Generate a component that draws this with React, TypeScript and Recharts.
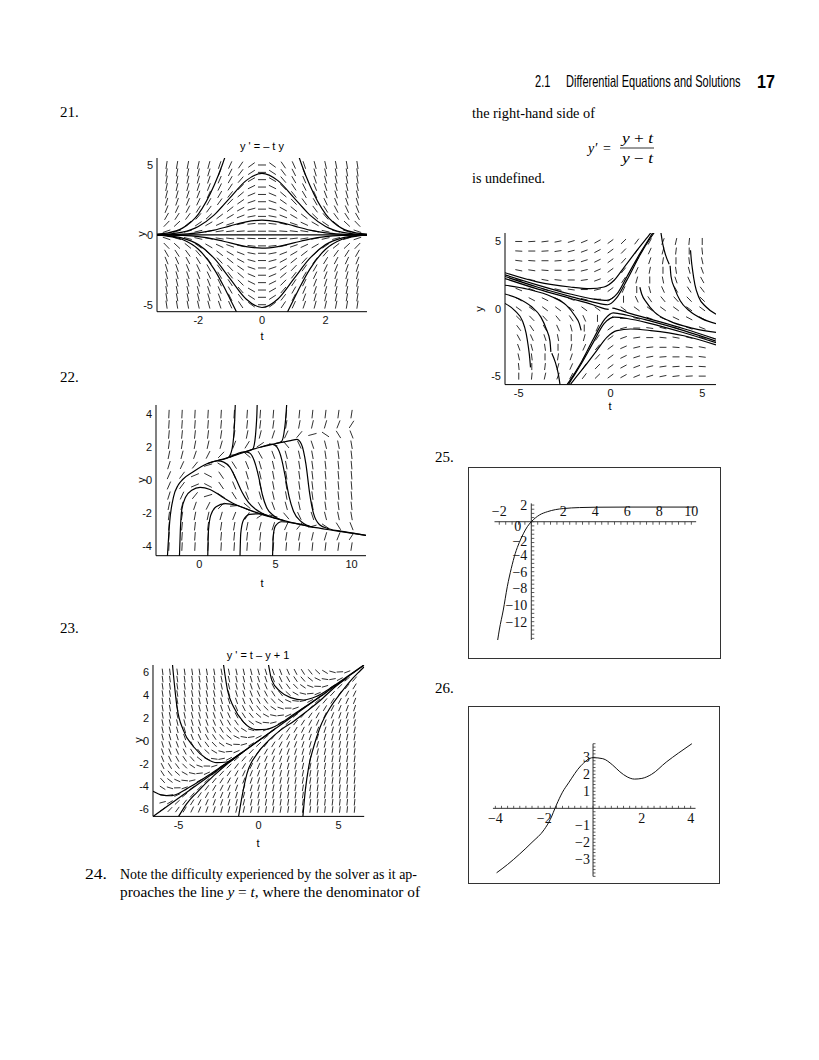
import React from "react";
import { ScatterChart, Scatter, XAxis, YAxis, ReferenceLine } from "recharts";

type Pt = [number, number];

// ---------- 21.  y' = -t y ----------
const grid21T = [-3, -2.67, -2.33, -2, -1.67, -1.33, -1, -0.67, -0.33, 0, 0.33, 0.67, 1, 1.33, 1.67, 2, 2.33, 2.67, 3];
const grid21Y = [-5, -4.47, -3.95, -3.42, -2.89, -2.37, -1.84, -1.32, -0.79, -0.26, 0.26, 0.79, 1.32, 1.84, 2.37, 2.89, 3.42, 3.95, 4.47, 5];
const ticks21T = [-2, 0, 2];
const ticks21Y = [-5, 0, 5];
const curves21: Pt[][] = [
  [[-3.3, 0.02], [-3, 0.05], [-2.5, 0.19], [-2, 0.6], [-1.5, 1.43], [-1, 2.67], [-0.5, 3.88], [0, 4.4], [0.5, 3.88], [1, 2.67], [1.5, 1.43], [2, 0.6], [2.5, 0.19], [3, 0.05], [3.3, 0.02]],
  [[-3.3, 0], [-3, 0.01], [-2.5, 0.05], [-2, 0.14], [-1.5, 0.34], [-1, 0.64], [-0.5, 0.93], [0, 1.05], [0.5, 0.93], [1, 0.64], [1.5, 0.34], [2, 0.14], [2.5, 0.05], [3, 0.01], [3.3, 0]],
  [[-3.3, 0], [0, 0], [3.3, 0]],
  [[-3.3, 0], [-3, -0.01], [-2.5, -0.04], [-2, -0.13], [-1.5, -0.31], [-1, -0.58], [-0.5, -0.84], [0, -0.95], [0.5, -0.84], [1, -0.58], [1.5, -0.31], [2, -0.13], [2.5, -0.04], [3, -0.01], [3.3, 0]],
  [[-3.3, -0.02], [-3, -0.06], [-2.5, -0.23], [-2, -0.7], [-1.5, -1.69], [-1, -3.15], [-0.5, -4.59], [0, -5.2], [0.5, -4.59], [1, -3.15], [1.5, -1.69], [2, -0.7], [2.5, -0.23], [3, -0.06], [3.3, -0.02]],
  [[-3.3, 0.05], [-3, 0.12], [-2.5, 0.48], [-2, 1.49], [-1.5, 3.57], [-1.25, 5.0], [-1.1, 6.0]],
  [[1.1, 6.0], [1.25, 5.0], [1.5, 3.57], [2, 1.49], [2.5, 0.48], [3, 0.12], [3.3, 0.05]],
  [[-3.3, -0.03], [-3, -0.08], [-2.5, -0.33], [-2, -1.03], [-1.5, -2.47], [-1.2, -3.7], [-1, -4.61], [-0.75, -5.75]],
  [[0.75, -5.75], [1, -4.61], [1.2, -3.7], [1.5, -2.47], [2, -1.03], [2.5, -0.33], [3, -0.08], [3.3, -0.03]],
];

// ---------- 22.  y' = y^2 - t ----------
const grid22T = [-2, -1.14, -0.29, 0.57, 1.43, 2.29, 3.14, 4, 4.86, 5.71, 6.57, 7.43, 8.29, 9.14, 10];
const grid22Y = [-4, -3.38, -2.77, -2.15, -1.54, -0.92, -0.31, 0.31, 0.92, 1.54, 2.15, 2.77, 3.38, 4];
const ticks22T = [0, 5, 10];
const ticks22Y = [-4, -2, 0, 2, 4];
const curves22: Pt[][] = [
  [[-2.1, -4.6], [-1.95, -2.5], [-1.7, -1.0], [-1.4, -0.3], [-1.1, 0.05], [-0.4, 0.52], [0.5, 1.0], [1.2, 1.2], [2, 1.4], [3, 1.72], [4, 2.0], [5, 2.22], [6, 2.4], [6.4, 2.47], [6.7, 2.2], [7.0, 1.0], [7.25, -0.8], [7.5, -2.0], [7.9, -2.68], [8.5, -2.92], [9.5, -3.1], [10.95, -3.32]],
  [[-1.31, -4.6], [-1.25, -3.0], [-1.16, -1.8], [-0.9, -1.0], [-0.5, -0.6], [0.05, -0.42], [0.7, -0.55], [1.5, -1.0], [2.2, -1.38], [3.3, -1.8], [5, -2.3], [7.3, -2.8], [9, -3.05], [10.95, -3.32]],
  [[0.55, -4.6], [0.6, -3.0], [0.75, -2.1], [1.1, -1.6], [1.7, -1.4], [2.5, -1.52], [3.3, -1.8]],
  [[2.67, -4.6], [2.72, -3.2], [2.9, -2.4], [3.3, -2.05], [4.0, -2.02], [5, -2.3]],
  [[4.81, -4.6], [4.86, -3.3], [5.0, -2.75], [5.4, -2.5], [6.2, -2.58], [7.3, -2.8]],
  [[0.5, 1.0], [1.2, 1.18], [1.6, 1.1], [2.0, 0.8], [2.4, 0.1], [2.8, -0.7], [3.2, -1.3], [3.7, -1.75], [4.5, -2.15]],
  [[2, 1.4], [3, 1.72], [3.3, 1.65], [3.6, 1.2], [3.9, 0.2], [4.15, -0.9], [4.4, -1.6], [4.9, -2.15], [5.6, -2.45]],
  [[4, 2.0], [4.8, 2.18], [5.1, 2.0], [5.4, 1.3], [5.65, 0.2], [5.9, -1.0], [6.2, -1.9], [6.7, -2.5], [7.5, -2.85]],
  [[1.2, 1.2], [1.9, 1.38], [2.15, 1.9], [2.25, 2.6], [2.32, 3.6], [2.36, 4.6]],
  [[3, 1.72], [3.5, 1.88], [3.65, 2.4], [3.73, 3.2], [3.78, 4.0], [3.8, 4.6]],
  [[5, 2.22], [5.4, 2.35], [5.55, 2.8], [5.65, 3.5], [5.71, 4.2], [5.74, 4.6]],
];

// ---------- 23.  y' = t - y + 1 ----------
const grid23T = [-6, -5.54, -5.08, -4.62, -4.15, -3.69, -3.23, -2.77, -2.31, -1.85, -1.38, -0.92, -0.46, 0, 0.46, 0.92, 1.38, 1.85, 2.31, 2.77, 3.23, 3.69, 4.15, 4.62, 5.08, 5.54, 6];
const grid23Y = [-6, -5.37, -4.74, -4.11, -3.47, -2.84, -2.21, -1.58, -0.95, -0.32, 0.32, 0.95, 1.58, 2.21, 2.84, 3.47, 4.11, 4.74, 5.37, 6];
const ticks23T = [-5, 0, 5];
const ticks23Y = [-6, -4, -2, 0, 2, 4, 6];
const curves23: Pt[][] = [
  [[-6.6, -6.6], [6.6, 6.6]],
  [[-5.38, 6.6], [-5.1, 2.93], [-4.7, 0.9], [-4.05, -0.55], [-3.25, -1.57], [-2.6, -1.92], [-2.0, -1.86], [-1.15, -1.13], [-0.1, -0.1], [1, 1]],
  [[-2.19, 6.6], [-1.94, 4.38], [-1.56, 2.93], [-0.94, 1.62], [-0.1, 0.96], [0.5, 1.0], [1.35, 1.5], [2.2, 2.3], [3.0, 3.05], [4, 4.0]],
  [[0.62, 6.6], [0.83, 5.26], [1.35, 4.3], [2.0, 3.75], [2.8, 3.55], [3.6, 3.85], [4.5, 4.6], [5.5, 5.55], [6.6, 6.62]],
  [[-6.6, -4.4], [-6, -4.75], [-5.5, -4.8], [-5, -4.6], [-4.5, -4.2], [-4, -3.8], [-3, -2.9], [-2, -1.95], [-1, -0.98]],
  [[-5.0, -6.6], [-4.5, -5.5], [-3.85, -4.5], [-2.8, -3.05], [-2, -2.08], [-1, -1.02]],
  [[-1.25, -6.6], [-1.04, -4.9], [-0.73, -2.9], [-0.1, -1.15], [0.62, 0.0], [1.35, 0.9], [2.2, 1.7], [3.0, 2.55], [3.85, 3.5], [4.7, 4.6], [5.5, 5.45]],
  [[2.77, -6.6], [2.92, -4.33], [3.13, -2.3], [3.44, -0.55], [3.85, 1.2], [4.48, 2.9], [5.1, 4.1], [5.73, 5.2], [6.35, 6.1], [6.6, 6.45]],
];

// ---------- 24.  y' = (y + t)/(y - t) ----------
const grid24T = [-5, -4.29, -3.57, -2.86, -2.14, -1.43, -0.71, 0, 0.71, 1.43, 2.14, 2.86, 3.57, 4.29, 5];
const grid24Y = [-5, -4.29, -3.57, -2.86, -2.14, -1.43, -0.71, 0, 0.71, 1.43, 2.14, 2.86, 3.57, 4.29, 5];
const ticks24T = [-5, 0, 5];
const ticks24Y = [-5, 0, 5];
const curves24: Pt[][] = [
  [[-5.75, 2.68], [-4, 2.0], [-2.2, 1.62], [-1.1, 1.5], [-0.35, 1.62], [0.2, 2.12], [0.75, 3.1], [1.45, 4.35], [2.1, 5.47], [2.2, 5.65]],
  [[-5.75, 2.52], [-4, 1.78], [-2.2, 1.1], [-0.9, 0.72], [-0.2, 0.62], [0.35, 1.1], [0.9, 2.4], [1.6, 4.1], [2.1, 5.2], [2.3, 5.65]],
  [[-5.75, 2.4], [-4, 1.62], [-2.2, 0.92], [-0.9, 0.48], [-0.15, 0.3], [0.3, 0.75], [0.9, 2.15], [1.65, 4.1], [2.15, 5.2], [2.38, 5.65]],
  [[-5.75, 2.25], [-4, 1.48], [-2.2, 0.78], [-1, 0.32], [-0.3, 0.0], [-0.1, -0.05]],
  [[-5.75, 1.75], [-4.5, 1.45], [-3.2, 0.9], [-2.4, 0.25], [-1.95, -0.5], [-1.7, -1.1], [-1.6, -1.6]],
  [[-5.75, 1.1], [-5, 0.75], [-4.3, 0.15], [-3.8, -0.6], [-3.5, -1.5], [-3.3, -2.4], [-3.25, -3.2]],
  [[-5.75, 0.4], [-5.2, -0.15], [-4.8, -0.9], [-4.6, -1.8], [-4.48, -2.8], [-4.4, -3.7], [-4.36, -4.35]],
  [[-3.2, -3.3], [-3.0, -4.0], [-2.85, -4.8], [-2.75, -5.65]],
  [[-2.2, -5.65], [-2.1, -5.47], [-1.45, -4.35], [-0.75, -3.1], [-0.2, -2.12], [0.35, -1.62], [1.1, -1.5], [2.2, -1.62], [4, -2.0], [5.75, -2.68]],
  [[-2.3, -5.65], [-2.1, -5.2], [-1.6, -4.1], [-0.9, -2.4], [-0.35, -1.1], [0.2, -0.62], [0.9, -0.72], [2.2, -1.1], [4, -1.78], [5.75, -2.52]],
  [[-2.38, -5.65], [-2.15, -5.2], [-1.65, -4.1], [-0.9, -2.15], [-0.3, -0.75], [0.15, -0.3], [0.9, -0.48], [2.2, -0.92], [4, -1.62], [5.75, -2.4]],
  [[0.1, 0.05], [0.3, 0.0], [1, -0.32], [2.2, -0.78], [4, -1.48], [5.75, -2.25]],
  [[1.6, 1.6], [1.7, 1.1], [1.95, 0.5], [2.4, -0.25], [3.2, -0.9], [4.5, -1.45], [5.75, -1.75]],
  [[3.25, 3.2], [3.3, 2.4], [3.5, 1.5], [3.8, 0.6], [4.3, -0.15], [5, -0.75], [5.75, -1.1]],
  [[4.36, 4.35], [4.4, 3.7], [4.48, 2.8], [4.6, 1.8], [4.8, 0.9], [5.2, 0.15], [5.75, -0.4]],
  [[2.75, 5.65], [2.85, 4.8], [3.0, 4.0], [3.2, 3.3]],
];

// ---------- 25. ----------
const curve25: Pt[] = [[-2.1, -14.2], [-2, -13], [-1.75, -10.6], [-1.5, -7.8], [-1.25, -5.6], [-1, -3.8], [-0.75, -2.5], [-0.5, -1.45], [-0.25, -0.6], [0, 0], [0.25, 0.45], [0.5, 0.8], [1, 1.2], [1.5, 1.45], [2, 1.58], [3, 1.7], [4, 1.74], [6, 1.76], [8, 1.76], [10.2, 1.76]];
const labels25X = [-2, 2, 4, 6, 8, 10];
const labels25Y = [2, 0, -2, -4, -6, -8, -10, -12];

// ---------- 26. ----------
const curve26: Pt[] = [[-3.95, -3.79], [-3.5, -3.3], [-3, -2.68], [-2.5, -2.0], [-2, -1.25], [-1.75, -0.65], [-1.5, 0.2], [-1.25, 0.95], [-1, 1.5], [-0.5, 2.5], [0, 2.98], [0.4, 2.92], [0.8, 2.55], [1.1, 2.15], [1.4, 1.85], [1.7, 1.72], [2.0, 1.76], [2.4, 2.0], [3.0, 2.72], [3.5, 3.25], [4.05, 3.8]];
const labels26X = [-4, -2, 2, 4];
const labels26Y = [3, 2, 1, -1, -2, -3];

const slope21 = (t: number, y: number) => -t * y;
const slope22 = (t: number, y: number) => y * y - t;
const slope23 = (t: number, y: number) => t - y + 1;
const slope24 = (t: number, y: number) => (y + t) / (y - t);

const SANS = "'Liberation Sans', Arial, Helvetica, sans-serif";
const SERIF = "'Liberation Serif', 'Times New Roman', Times, serif";

const toObjs = (pts: Pt[]) => pts.map(([t, y]) => ({ t, y }));
const makeField = (ts: number[], ys: number[], f: (t: number, y: number) => number) =>
  ts.flatMap((t) => ys.map((y) => ({ t, y, s: f(t, y) })));
const range = (a: number, b: number, step: number) => {
  const out: number[] = [];
  for (let v = a; v <= b + 1e-9; v += step) out.push(Math.round(v * 100) / 100);
  return out;
};
const fmt = (v: number) => (v < 0 ? "\u2212" + Math.abs(v) : String(v));

const dashShape = (kx: number, ky: number, len: number) => (props: any) => {
  const { cx, cy, payload } = props;
  if (cx == null || cy == null || !payload || Number.isNaN(payload.s)) return <g />;
  const a = Math.atan((payload.s * ky) / kx);
  const dx = (Math.cos(a) * len) / 2;
  const dy = (Math.sin(a) * len) / 2;
  return <line x1={cx - dx} y1={cy + dy} x2={cx + dx} y2={cy - dy} stroke="#1a1a1a" strokeWidth={0.9} />;
};

const noDot = () => <g />;

interface PanelCfg {
  left: number;
  top: number;
  w: number;
  h: number;
  xDom: [number, number];
  yDom: [number, number];
  xTicks: number[];
  yTicks: number[];
  gridT: number[];
  gridY: number[];
  slope: (t: number, y: number) => number;
  dash: number;
  curves: Pt[][];
}

// margins around each direction-field plot; the axes take AX_W / AX_H of their own
const M = { top: 10, right: 10, bottom: 10, left: 5 };
const AX_W = 25;
const AX_H = 20;

const FieldPanel = ({ p }: { p: PanelCfg }) => {
  const kx = p.w / (p.xDom[1] - p.xDom[0]);
  const ky = p.h / (p.yDom[1] - p.yDom[0]);
  const field = makeField(p.gridT, p.gridY, p.slope);
  const tickStyle = { fontSize: 11, fill: "#111", fontFamily: SANS };
  return (
    <div style={{ position: "absolute", left: p.left - M.left - AX_W, top: p.top - M.top }}>
      <ScatterChart width={p.w + M.left + AX_W + M.right} height={p.h + M.top + AX_H + M.bottom} margin={M}>
        <XAxis type="number" dataKey="t" domain={p.xDom} ticks={p.xTicks} interval={0} allowDataOverflow height={AX_H}
          tickLine={false} tickSize={0} tickMargin={5} axisLine={{ stroke: "#000", strokeWidth: 1 }} tick={tickStyle} />
        <YAxis type="number" dataKey="y" domain={p.yDom} ticks={p.yTicks} interval={0} allowDataOverflow width={AX_W}
          tickLine={false} tickSize={0} tickMargin={4} axisLine={{ stroke: "#000", strokeWidth: 1 }} tick={tickStyle} />
        <Scatter data={field} shape={dashShape(kx, ky, p.dash)} isAnimationActive={false} />
        {p.curves.map((c, i) => (
          <Scatter key={i} data={toObjs(c)} line={{ stroke: "#000", strokeWidth: 1.2 }} lineJointType="monotoneX"
            shape={noDot} isAnimationActive={false} />
        ))}
      </ScatterChart>
    </div>
  );
};

const tickShape = (x1: number, y1: number, x2: number, y2: number) => (props: any) => (
  <line x1={props.cx + x1} y1={props.cy + y1} x2={props.cx + x2} y2={props.cy + y2} stroke="#333" strokeWidth={0.8} />
);
const textShape = (dx: number, dy: number, anchor: string) => (props: any) => (
  <text x={props.cx + dx + (props.payload.dx || 0)} y={props.cy + dy + (props.payload.shift || 0)} textAnchor={anchor}
    fontFamily={SERIF} fontSize={14} fill="#111">{props.payload.label}</text>
);

const Box = ({ left, top, w, h }: { left: number; top: number; w: number; h: number }) => (
  <div style={{ position: "absolute", left, top, width: w, height: h, border: "1.3px solid #333", boxSizing: "border-box" }} />
);

const Plot25 = () => {
  const xTicks = range(-2, 10, 0.4).map((t) => ({ t, y: 0 }));
  const yTicks = range(-14, 2, 0.5).map((y) => ({ t: 0, y }));
  const xLab = labels25X.map((t) => ({ t, y: 0, label: fmt(t) }));
  const yLab = labels25Y.map((y) => ({ t: 0, y, label: fmt(y), shift: y === 0 ? 4 : y === -2 ? 3 : 0, dx: y === 0 ? -6 : 0 }));
  return (
    <div style={{ position: "absolute", left: 470, top: 469 }}>
      <ScatterChart width={250} height={189} margin={{ top: 0, right: 0, bottom: 0, left: 0 }}>
        <XAxis type="number" dataKey="t" domain={[-3.83, 11.79]} hide allowDataOverflow />
        <YAxis type="number" dataKey="y" domain={[-16.36, 6.33]} hide allowDataOverflow />
        <ReferenceLine segment={[{ x: -2.3, y: 0 }, { x: 10.3, y: 0 }]} stroke="#333" strokeWidth={1} />
        <ReferenceLine segment={[{ x: 0, y: 2.2 }, { x: 0, y: -14.2 }]} stroke="#333" strokeWidth={1} />
        <Scatter data={xTicks} shape={tickShape(0, 0, 0, 3)} isAnimationActive={false} />
        <Scatter data={yTicks} shape={tickShape(0, 0, 3, 0)} isAnimationActive={false} />
        <Scatter data={xLab} shape={textShape(0, -6, "middle")} isAnimationActive={false} />
        <Scatter data={yLab} shape={textShape(-4, 5, "end")} isAnimationActive={false} />
        <Scatter data={toObjs(curve25)} line={{ stroke: "#111", strokeWidth: 1 }} lineJointType="monotoneX" shape={noDot} isAnimationActive={false} />
      </ScatterChart>
    </div>
  );
};

const Plot26 = () => {
  const xTicks = range(-4, 4, 0.25).map((t) => ({ t, y: 0 }));
  const yTicks = range(-4, 3.8, 0.2).map((y) => ({ t: 0, y }));
  const xLab = labels26X.map((t) => ({ t, y: 0, label: fmt(t) }));
  const yLab = labels26Y.map((y) => ({ t: 0, y, label: fmt(y) }));
  return (
    <div style={{ position: "absolute", left: 470, top: 708 }}>
      <ScatterChart width={248} height={175} margin={{ top: 0, right: 0, bottom: 0, left: 0 }}>
        <XAxis type="number" dataKey="t" domain={[-5.04, 5.12]} hide allowDataOverflow />
        <YAxis type="number" dataKey="y" domain={[-4.39, 5.9]} hide allowDataOverflow />
        <ReferenceLine segment={[{ x: -4.1, y: 0 }, { x: 4.2, y: 0 }]} stroke="#333" strokeWidth={1} />
        <ReferenceLine segment={[{ x: 0, y: 3.8 }, { x: 0, y: -4.0 }]} stroke="#333" strokeWidth={1} />
        <Scatter data={xTicks} shape={tickShape(0, 0, 0, -2.5)} isAnimationActive={false} />
        <Scatter data={yTicks} shape={tickShape(0, 0, 2.5, 0)} isAnimationActive={false} />
        <Scatter data={xLab} shape={textShape(0, 15, "middle")} isAnimationActive={false} />
        <Scatter data={yLab} shape={textShape(-3, 5, "end")} isAnimationActive={false} />
        <Scatter data={toObjs(curve26)} line={{ stroke: "#111", strokeWidth: 1 }} lineJointType="monotoneX" shape={noDot} isAnimationActive={false} />
      </ScatterChart>
    </div>
  );
};

const panels: PanelCfg[] = [
  { left: 156.7, top: 158, w: 210, h: 153.7, xDom: [-3.3, 3.3], yDom: [-5.5, 5.5], xTicks: ticks21T, yTicks: ticks21Y, gridT: grid21T, gridY: grid21Y, slope: slope21, dash: 8, curves: curves21 },
  { left: 156, top: 405, w: 210, h: 150.7, xDom: [-2.85, 10.95], yDom: [-4.55, 4.55], xTicks: ticks22T, yTicks: ticks22Y, gridT: grid22T, gridY: grid22Y, slope: slope22, dash: 8.5, curves: curves22 },
  { left: 152.7, top: 664.6, w: 211.2, h: 151.4, xDom: [-6.6, 6.6], yDom: [-6.6, 6.6], xTicks: ticks23T, yTicks: ticks23Y, gridT: grid23T, gridY: grid23Y, slope: slope23, dash: 6.5, curves: curves23 },
  { left: 505, top: 232.7, w: 211, h: 151.6, xDom: [-5.75, 5.75], yDom: [-5.63, 5.63], xTicks: ticks24T, yTicks: ticks24Y, gridT: grid24T, gridY: grid24Y, slope: slope24, dash: 7, curves: curves24 },
];

const YLabel = ({ x, y }: { x: number; y: number }) => (
  <text x={x} y={y} transform={`rotate(-90 ${x} ${y})`} textAnchor="middle" dominantBaseline="central" fontFamily={SANS} fontSize={11}>y</text>
);

const PageText = () => (
  <svg width={819} height={1060} style={{ position: "absolute", left: 0, top: 0, pointerEvents: "none" }}>
    {/* running head in a condensed face: squeeze the sans horizontally */}
    <g transform="translate(535 87) scale(0.69 1)">
      <text x={0} y={0} fontFamily={SANS} fontSize={16}>2.1</text>
      <text x={45} y={0} fontFamily={SANS} fontSize={16}>Differential Equations and Solutions</text>
    </g>
    <g transform="translate(757 88) scale(0.85 1)">
      <text x={0} y={0} fontFamily={SANS} fontSize={19} fontWeight="bold">17</text>
    </g>

    <text x={60} y={117} fontFamily={SERIF} fontSize={15}>21.</text>
    <text x={60} y={382} fontFamily={SERIF} fontSize={15}>22.</text>
    <text x={60} y={633} fontFamily={SERIF} fontSize={15}>23.</text>
    <text x={435} y={462} fontFamily={SERIF} fontSize={15}>25.</text>
    <text x={435} y={693} fontFamily={SERIF} fontSize={15}>26.</text>

    <text x={472} y={118} fontFamily={SERIF} fontSize={14} textLength={123} lengthAdjust="spacingAndGlyphs">the right-hand side of</text>
    <text x={588} y={153} fontFamily={SERIF} fontSize={14} fontStyle="italic">y′</text>
    <text x={603} y={153} fontFamily={SERIF} fontSize={14}>=</text>
    <text x={622} y={143} fontFamily={SERIF} fontSize={14} textLength={31} lengthAdjust="spacingAndGlyphs">
      <tspan fontStyle="italic">y</tspan> + <tspan fontStyle="italic">t</tspan>
    </text>
    <line x1={620} y1={148} x2={654} y2={148} stroke="#000" strokeWidth={0.8} />
    <text x={622} y={163} fontFamily={SERIF} fontSize={14} textLength={31} lengthAdjust="spacingAndGlyphs">
      <tspan fontStyle="italic">y</tspan> − <tspan fontStyle="italic">t</tspan>
    </text>
    <text x={472} y={183} fontFamily={SERIF} fontSize={14} textLength={73} lengthAdjust="spacingAndGlyphs">is undefined.</text>

    <text x={85} y={879} fontFamily={SERIF} fontSize={14} textLength={22} lengthAdjust="spacingAndGlyphs">24.</text>
    <text x={120} y={879} fontFamily={SERIF} fontSize={14} textLength={297} lengthAdjust="spacingAndGlyphs">Note the difficulty experienced by the solver as it ap-</text>
    <text x={120} y={897} fontFamily={SERIF} fontSize={14} textLength={300} lengthAdjust="spacingAndGlyphs">
      proaches the line <tspan fontStyle="italic">y</tspan> = <tspan fontStyle="italic">t</tspan>, where the denominator of
    </text>

    <text x={262} y={150} textAnchor="middle" fontFamily={SANS} fontSize={11}>y ' = – t y</text>
    <text x={262} y={340} textAnchor="middle" fontFamily={SANS} fontSize={11}>t</text>
    <YLabel x={141} y={234} />
    <text x={262} y={587} textAnchor="middle" fontFamily={SANS} fontSize={11}>t</text>
    <YLabel x={141} y={480} />
    <text x={258} y={659} textAnchor="middle" fontFamily={SANS} fontSize={11}>y ' = t – y + 1</text>
    <text x={258} y={847} textAnchor="middle" fontFamily={SANS} fontSize={11}>t</text>
    <YLabel x={138} y={740} />
    <text x={610} y={410} textAnchor="middle" fontFamily={SANS} fontSize={11}>t</text>
    <YLabel x={479} y={309} />
  </svg>
);

export default function App() {
  return (
    <div style={{ position: "absolute", left: 0, top: 0, width: 819, height: 1060, background: "#fff" }}>
      {panels.map((p, i) => (
        <FieldPanel key={i} p={p} />
      ))}
      <Box left={468} top={467} w={253} h={192} />
      <Plot25 />
      <Box left={468} top={706} w={252} h={178} />
      <Plot26 />
      <PageText />
    </div>
  );
}
